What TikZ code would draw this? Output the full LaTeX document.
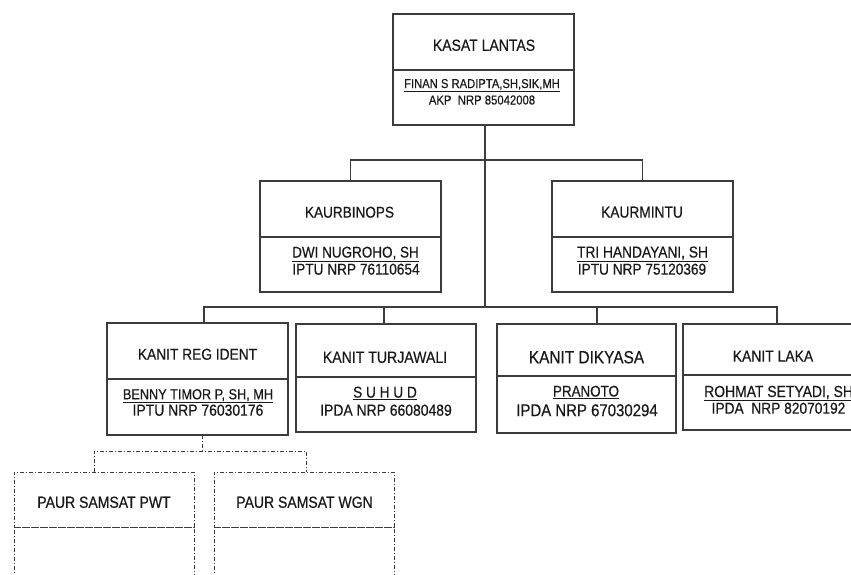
\documentclass[tikz,border=0pt]{standalone}
\usepackage{fontspec}
\setmainfont[FakeStretch=0.87,FakeBold=0.4]{Liberation Sans}
\definecolor{lc}{RGB}{60,60,60}
\newcommand{\fs}[1]{\fontsize{#1}{#1}\selectfont}
\begin{document}
\begin{tikzpicture}[x=1pt,y=-1pt,
  box/.style={draw=lc, line width=1.3pt, inner sep=0pt, outer sep=0pt, anchor=north west},
  dbox/.style={draw=lc, line width=0.9pt, dash pattern=on 4pt off 2pt on 1pt off 2pt, inner sep=0pt, outer sep=0pt, anchor=north west},
  conn/.style={draw=lc, line width=1.3pt},
  dconn/.style={draw=lc, line width=0.9pt, dash pattern=on 4pt off 2pt on 1pt off 2pt},
  txt/.style={inner sep=0pt, anchor=base, text=black!90}]
\useasboundingbox (0,0) rectangle (851,574);
\clip (0,0) rectangle (851,574);
\fill[white] (0,0) rectangle (851,574);

% KASAT
\node[box, minimum width=181pt, minimum height=56pt] (kasat) at (393,14) {};
\node[box, minimum width=181pt, minimum height=55pt] (kasatb) at (393,70) {};
\node[txt, font=\fs{16.1}] (kasatt) at (484,50.8) {KASAT LANTAS};
\node[txt, font=\fs{12.9}] (kasatn) at (482,88) {\underline{FINAN S RADIPTA,SH,SIK,MH}};
\node[txt, font=\fs{13}] (kasatr) at (482,104.5) {AKP~~NRP 85042008};

% KAURBINOPS
\node[box, minimum width=181pt, minimum height=56pt] (binops) at (260,181) {};
\node[box, minimum width=181pt, minimum height=55pt] (binopsb) at (260,237) {};
\node[txt, font=\fs{15.6}] (binopst) at (349.5,217.6) {KAURBINOPS};
\node[txt, font=\fs{15.5}] (binopsn) at (355.5,257.5) {\underline{DWI NUGROHO, SH}};
\node[txt, font=\fs{15.7}] (binopsr) at (356,274.6) {IPTU NRP 76110654};

% KAURMINTU
\node[box, minimum width=181pt, minimum height=56pt] (mintu) at (552,181) {};
\node[box, minimum width=181pt, minimum height=55pt] (mintub) at (552,237) {};
\node[txt, font=\fs{15.8}] (mintut) at (642,217.6) {KAURMINTU};
\node[txt, font=\fs{15.8}] (mintun) at (642.5,257.5) {\underline{TRI HANDAYANI, SH}};
\node[txt, font=\fs{15.7}] (mintur) at (642,274.6) {IPTU NRP 75120369};

% KANIT REG IDENT
\node[box, minimum width=181pt, minimum height=56pt] (reg) at (107,323) {};
\node[box, minimum width=181pt, minimum height=56pt] (regb) at (107,379) {};
\node[txt, font=\fs{15.8}] (regt) at (197.5,359.7) {KANIT REG IDENT};
\node[txt, font=\fs{14.6}] (regn) at (198,399.3) {\underline{BENNY TIMOR P, SH, MH}};
\node[txt, font=\fs{16}] (regr) at (198,415.7) {IPTU NRP 76030176};

% KANIT TURJAWALI
\node[box, minimum width=180pt, minimum height=53pt] (tur) at (296,324) {};
\node[box, minimum width=180pt, minimum height=55pt] (turb) at (296,377) {};
\node[txt, font=\fs{16.2}] (turt) at (385,362.8) {KANIT TURJAWALI};
\node[txt, font=\fs{15.7}] (turn) at (385,397.6) {\underline{S U H U D}};
\node[txt, font=\fs{16}] (turr) at (386,415.7) {IPDA NRP 66080489};

% KANIT DIKYASA
\node[box, minimum width=179pt, minimum height=52pt] (dik) at (497,324) {};
\node[box, minimum width=179pt, minimum height=57pt] (dikb) at (497,376) {};
\node[txt, font=\fs{17.7}] (dikt) at (586.5,363.3) {KANIT DIKYASA};
\node[txt, font=\fs{15.4}] (dikn) at (586,396.5) {\underline{PRANOTO}};
\node[txt, font=\fs{17.2}] (dikr) at (587,416.2) {IPDA NRP 67030294};

% KANIT LAKA
\node[box, minimum width=180pt, minimum height=51pt] (laka) at (683,324) {};
\node[box, minimum width=180pt, minimum height=55pt] (lakab) at (683,375) {};
\node[txt, font=\fs{16}] (lakat) at (773,361.7) {KANIT LAKA};
\node[txt, font=\fs{16}, anchor=base west] (lakan) at (704,397) {\underline{ROHMAT SETYADI, SH}};
\node[txt, font=\fs{15.8}] (lakar) at (778.5,413.7) {IPDA~~NRP 82070192};

% PAUR SAMSAT
\node[dbox, minimum width=180pt, minimum height=55pt] (pwt) at (14,472) {};
\node[dbox, minimum width=180pt, minimum height=60pt] (pwtb) at (14,527) {};
\node[txt, font=\fs{16.1}] (pwtt) at (104,507.8) {PAUR SAMSAT PWT};
\node[dbox, minimum width=180pt, minimum height=55pt] (wgn) at (214,472) {};
\node[dbox, minimum width=180pt, minimum height=60pt] (wgnb) at (214,527) {};
\node[txt, font=\fs{16.1}] (wgnt) at (304.5,507.8) {PAUR SAMSAT WGN};

% connectors
\coordinate (h2) at (485,160);
\coordinate (h3) at (485,307);
\draw[conn] (kasatb.south -| h2) -- (h3);
\draw[conn] (binops.north) |- (h2) -| (mintu.north);
\coordinate (d1) at (204,307);
\coordinate (d2) at (384,307);
\coordinate (d3) at (597,307);
\coordinate (d4) at (777,307);
\draw[conn] (d1 |- reg.north) -- (d1) -- (d4) -- (d4 |- laka.north);
\draw[conn] (d2) -- (d2 |- tur.north);
\draw[conn] (d3) -- (d3 |- dik.north);

\coordinate (p0) at (202,451);
\coordinate (p1) at (94,451);
\coordinate (p2) at (306,451);
\draw[dconn] (p0 |- regb.south) -- (p0);
\draw[dconn] (p1 |- pwt.north) -- (p1) -- (p2) -- (p2 |- wgn.north);
\end{tikzpicture}
\end{document}
